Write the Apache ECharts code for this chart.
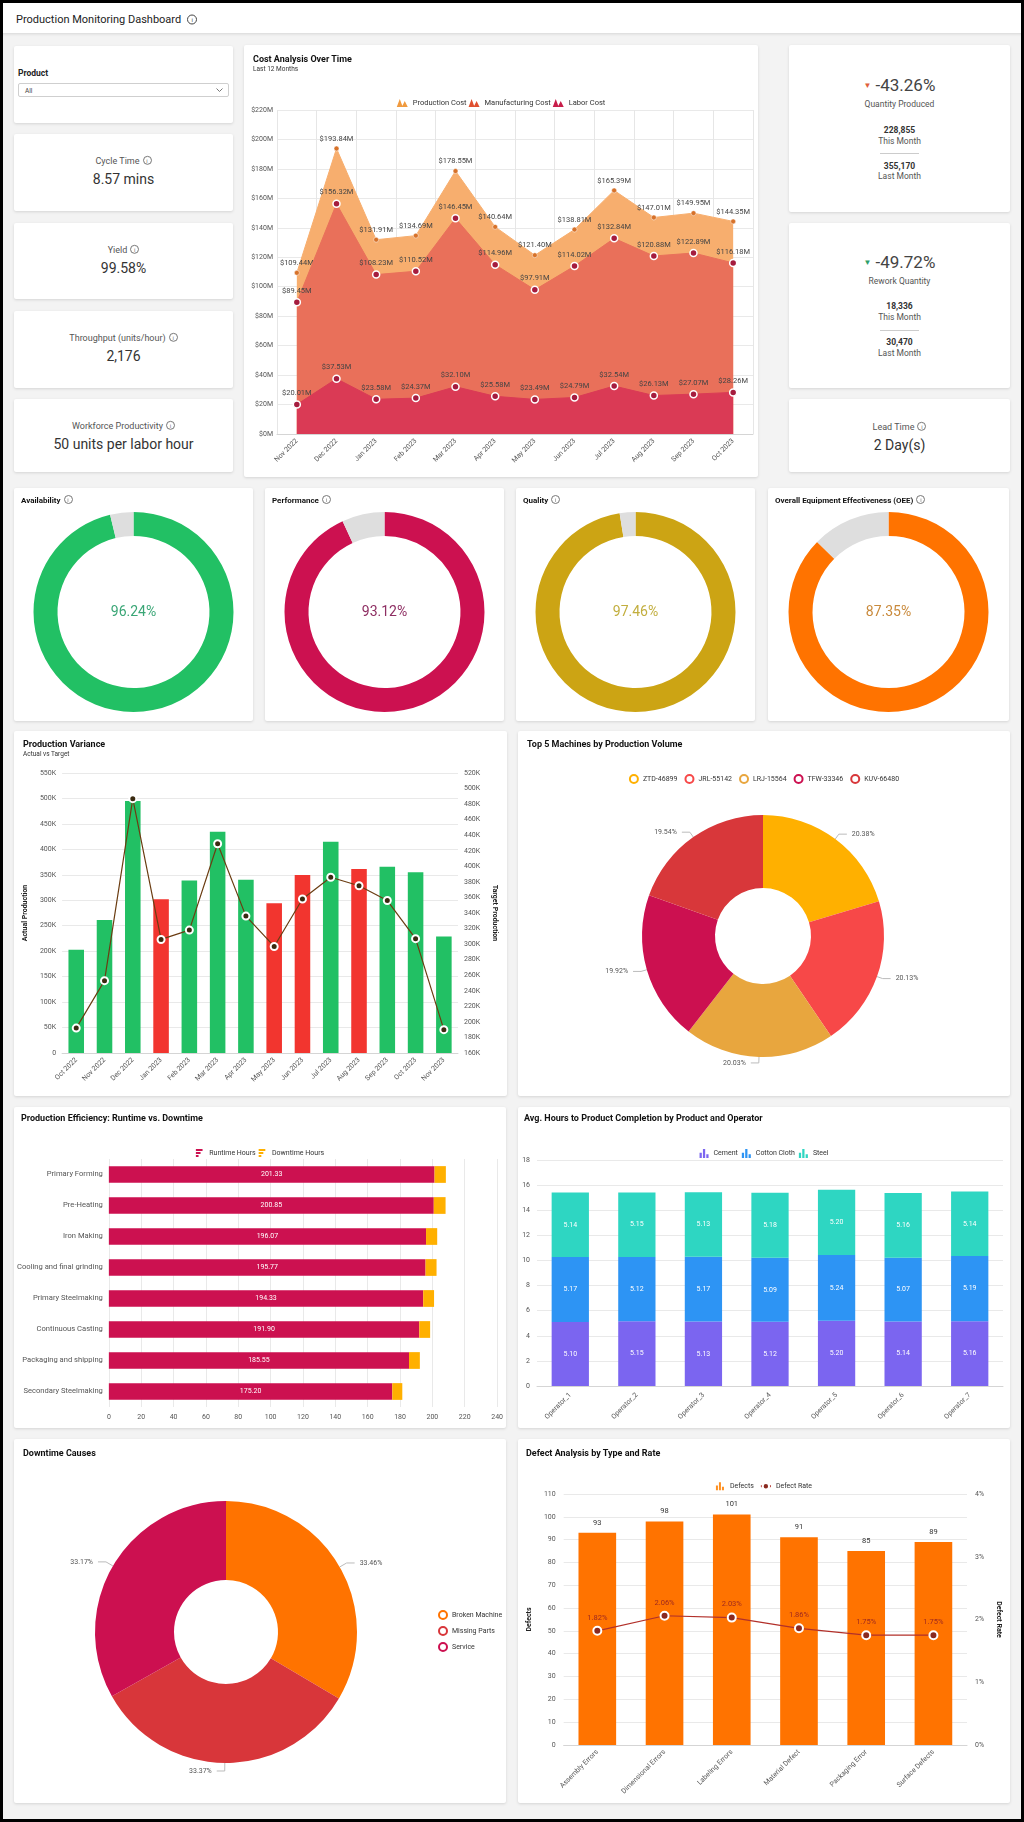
<!DOCTYPE html>
<html><head><meta charset="utf-8">
<script src="https://cdn.jsdelivr.net/npm/echarts/dist/echarts.min.js"></script>
<style>
html,body{margin:0;padding:0;}
body{width:1024px;height:1822px;position:relative;overflow:hidden;background:#f3f3f3;font-family:Roboto,"Noto Sans",sans-serif;color:#333;}
#frame{position:absolute;left:0;top:0;width:1024px;height:1822px;box-sizing:border-box;border:3px solid #000;z-index:50;pointer-events:none;}
#header{position:absolute;left:0;top:0;width:1024px;height:33px;background:#fff;box-shadow:0 1px 3px rgba(0,0,0,0.12);}
.card{position:absolute;background:#fff;box-shadow:0 1px 3px rgba(0,0,0,0.13);border-radius:2px;}
.chart{position:absolute;left:0;top:0;width:100%;height:100%;}
.t{position:absolute;left:0;right:0;text-align:center;transform:translateY(-50%);white-space:nowrap;line-height:1.15;}
.ttl{position:absolute;font-weight:700;font-size:9px;color:#111;white-space:nowrap;transform:translateY(-50%);z-index:5;}
.sub{position:absolute;font-size:7px;color:#333;white-space:nowrap;transform:translateY(-50%);z-index:5;}
.i{display:inline-block;width:7px;height:7px;border:1px solid #777;border-radius:50%;font-size:6px;line-height:7px;text-align:center;color:#777;font-weight:400;vertical-align:1px;margin-left:3px;font-style:normal;}
.lab{font-size:9px;color:#555;}
.val{font-size:14px;color:#333;}
.big{font-size:17px;color:#444;}
.sm{font-size:8.5px;color:#555;}
.bold{font-size:8.5px;color:#333;font-weight:700;}
.sep{position:absolute;left:91px;width:39px;height:1px;background:#ccc;}
</style></head>
<body>
<div id="header"><div style="position:absolute;left:16px;top:19px;transform:translateY(-50%);font-size:11px;color:#222;white-space:nowrap;">Production Monitoring Dashboard<span class="i" style="width:8px;height:8px;line-height:8px;margin-left:6px;border-color:#444;color:#444;">i</span></div></div>

<!-- left KPI cards -->
<div class="card" style="left:14px;top:46px;width:219px;height:77px;">
  <div style="position:absolute;left:4px;top:27px;transform:translateY(-50%);font-size:8.5px;font-weight:700;color:#222;">Product</div>
  <div style="position:absolute;left:4px;top:37px;width:211px;height:14px;box-sizing:border-box;border:1px solid #cfcfcf;border-radius:2px;">
    <div style="position:absolute;left:6px;top:7px;transform:translateY(-50%);font-size:6.5px;color:#444;">All</div>
    <svg style="position:absolute;right:5px;top:4px;" width="7" height="5"><polyline points="0.5,0.5 3.5,3.5 6.5,0.5" fill="none" stroke="#777" stroke-width="1"/></svg>
  </div>
</div>
<div class="card" style="left:14px;top:134px;width:219px;height:77px;">
  <div class="t lab" style="top:27px;">Cycle Time<span class="i">i</span></div>
  <div class="t val" style="top:45px;">8.57 mins</div>
</div>
<div class="card" style="left:14px;top:223px;width:219px;height:76px;">
  <div class="t lab" style="top:27px;">Yield<span class="i">i</span></div>
  <div class="t val" style="top:45px;">99.58%</div>
</div>
<div class="card" style="left:14px;top:311px;width:219px;height:77px;">
  <div class="t lab" style="top:27px;">Throughput (units/hour)<span class="i">i</span></div>
  <div class="t val" style="top:45px;">2,176</div>
</div>
<div class="card" style="left:14px;top:399px;width:219px;height:73px;">
  <div class="t lab" style="top:27px;">Workforce Productivity<span class="i">i</span></div>
  <div class="t val" style="top:45px;">50 units per labor hour</div>
</div>

<!-- cost chart -->
<div class="card" style="left:244px;top:45px;width:514px;height:432px;">
  <div id="costChart" class="chart"></div>
  <div class="ttl" style="left:9px;top:14px;">Cost Analysis Over Time</div>
  <div class="sub" style="left:9px;top:24px;font-size:6.5px;">Last 12 Months</div>
</div>

<!-- right KPI cards -->
<div class="card" style="left:789px;top:45px;width:221px;height:167px;">
  <div class="t big" style="top:41px;"><span style="color:#E0603A;font-size:8px;vertical-align:3px;margin-right:4px;">&#9660;</span>-43.26%</div>
  <div class="t sm" style="top:60px;">Quantity Produced</div>
  <div class="t bold" style="top:86px;">228,855</div>
  <div class="t sm" style="top:97px;">This Month</div>
  <div class="sep" style="top:108px;"></div>
  <div class="t bold" style="top:122px;">355,170</div>
  <div class="t sm" style="top:132px;">Last Month</div>
</div>
<div class="card" style="left:789px;top:223px;width:221px;height:165px;">
  <div class="t big" style="top:40px;"><span style="color:#2E9E68;font-size:8px;vertical-align:3px;margin-right:4px;">&#9660;</span>-49.72%</div>
  <div class="t sm" style="top:59px;">Rework Quantity</div>
  <div class="t bold" style="top:84px;">18,336</div>
  <div class="t sm" style="top:95px;">This Month</div>
  <div class="sep" style="top:107px;"></div>
  <div class="t bold" style="top:120px;">30,470</div>
  <div class="t sm" style="top:131px;">Last Month</div>
</div>
<div class="card" style="left:789px;top:399px;width:221px;height:73px;">
  <div class="t lab" style="top:28px;">Lead Time<span class="i">i</span></div>
  <div class="t val" style="top:46px;">2 Day(s)</div>
</div>

<!-- gauges -->
<div class="card" style="left:14px;top:488px;width:239px;height:233px;"><div id="g0" class="chart"></div><div class="ttl" style="left:7px;top:12px;font-size:8px;">Availability<span class="i">i</span></div></div>
<div class="card" style="left:265px;top:488px;width:239px;height:233px;"><div id="g1" class="chart"></div><div class="ttl" style="left:7px;top:12px;font-size:8px;">Performance<span class="i">i</span></div></div>
<div class="card" style="left:516px;top:488px;width:239px;height:233px;"><div id="g2" class="chart"></div><div class="ttl" style="left:7px;top:12px;font-size:8px;">Quality<span class="i">i</span></div></div>
<div class="card" style="left:768px;top:488px;width:241px;height:233px;"><div id="g3" class="chart"></div><div class="ttl" style="left:7px;top:12px;font-size:8px;">Overall Equipment Effectiveness (OEE)<span class="i">i</span></div></div>

<!-- production variance -->
<div class="card" style="left:14px;top:731px;width:493px;height:365px;">
  <div id="varChart" class="chart"></div>
  <div class="ttl" style="left:9px;top:13px;">Production Variance</div>
  <div class="sub" style="left:9px;top:23px;font-size:6.5px;">Actual vs Target</div>
</div>
<!-- top 5 -->
<div class="card" style="left:518px;top:731px;width:492px;height:365px;">
  <div id="topChart" class="chart"></div>
  <div class="ttl" style="left:9px;top:13px;">Top 5 Machines by Production Volume</div>
</div>
<!-- efficiency -->
<div class="card" style="left:14px;top:1107px;width:492px;height:321px;">
  <div id="effChart" class="chart"></div>
  <div class="ttl" style="left:7px;top:11px;">Production Efficiency: Runtime vs. Downtime</div>
</div>
<!-- avg hours -->
<div class="card" style="left:518px;top:1107px;width:492px;height:321px;">
  <div id="avgChart" class="chart"></div>
  <div class="ttl" style="left:6px;top:11px;">Avg. Hours to Product Completion by Product and Operator</div>
</div>
<!-- downtime -->
<div class="card" style="left:14px;top:1439px;width:492px;height:364px;">
  <div id="downChart" class="chart"></div>
  <div class="ttl" style="left:9px;top:14px;">Downtime Causes</div>
</div>
<!-- defect -->
<div class="card" style="left:518px;top:1439px;width:492px;height:364px;">
  <div id="defChart" class="chart"></div>
  <div class="ttl" style="left:8px;top:14px;">Defect Analysis by Type and Rate</div>
</div>

<div id="frame"></div>

<script>
// ---------- DATA ----------
const costMonths = ['Nov 2022','Dec 2022','Jan 2023','Feb 2023','Mar 2023','Apr 2023','May 2023','Jun 2023','Jul 2023','Aug 2023','Sep 2023','Oct 2023'];
const productionCost = [109.44,193.84,131.91,134.69,178.55,140.64,121.40,138.81,165.39,147.01,149.95,144.35];
const manufacturingCost = [89.45,156.32,108.23,110.52,146.45,114.96,97.91,114.02,132.84,120.88,122.89,116.18];
const laborCost = [20.01,37.53,23.58,24.37,32.10,25.58,23.49,24.79,32.54,26.13,27.07,28.26];

const gaugeNames = ['Availability','Performance','Quality','OEE'];
const gaugeValues = [96.24,93.12,97.46,87.35];

const varMonths = ['Oct 2022','Nov 2022','Dec 2022','Jan 2023','Feb 2023','Mar 2023','Apr 2023','May 2023','Jun 2023','Jul 2023','Aug 2023','Sep 2023','Oct 2023','Nov 2023'];
const actualProduction = [202600,261400,494800,302000,339000,434600,340500,294000,349700,415000,361400,366000,355170,228855];
const targetProduction = [192000,253000,487000,306000,318000,429000,336000,297000,358000,386000,375000,356000,307000,190000];

const machines = ['ZTD-46899','JRL-55142','LRJ-15564','TFW-33346','KUV-66480'];
const machineShare = [20.38,20.13,20.03,19.92,19.54];

const stages = ['Primary Forming','Pre-Heating','Iron Making','Cooling and final grinding','Primary Steelmaking','Continuous Casting','Packaging and shipping','Secondary Steelmaking'];
const runtimeHours = [201.33,200.85,196.07,195.77,194.33,191.90,185.55,175.20];
const downtimeHours = [7.0,7.3,6.9,6.8,6.7,6.7,6.7,6.2];

const operators = ['Operator_1','Operator_2','Operator_3','Operator_4','Operator_5','Operator_6','Operator_7'];
const cementHours = [5.10,5.15,5.13,5.12,5.20,5.14,5.16];
const cottonHours = [5.17,5.12,5.17,5.09,5.24,5.07,5.19];
const steelHours = [5.14,5.15,5.13,5.18,5.20,5.16,5.14];

const downCauses = ['Broken Machine','Missing Parts','Service'];
const downShare = [33.46,33.37,33.17];

const defectTypes = ['Assembly Errors','Dimensional Errors','Labeling Errors','Material Defect','Packaging Error','Surface Defects'];
const defectCounts = [93,98,101,91,85,89];
const defectRates = [1.82,2.06,2.03,1.86,1.75,1.75];

// ---------- HELPERS ----------
const FONT = 'Roboto, "Noto Sans", sans-serif';
function mk(id, opt){
  const c = echarts.init(document.getElementById(id), null, {renderer:'canvas'});
  opt.animation = false;
  opt.textStyle = {fontFamily: FONT};
  c.setOption(opt);
  return c;
}
const gridLine = {lineStyle:{color:'#e9e9e9', width:1}};
const axLbl = {fontSize:7, color:'#555', fontFamily: FONT};
const mountain = 'path://M0,8 L3,0 L6,8 Z M5,8 L8,2 L11,8 Z';
const hbarIcon = 'path://M0,0H10V3H0Z M0,4.5H7V7.5H0Z M0,9H4V12H0Z';
const vbarIcon = 'path://M0,12V5H3V12Z M4.5,12V0H7.5V12Z M9,12V7H12V12Z';

// ---------- COST CHART ----------
const costColors = {prod:'#F7AE6E', manu:'#E9705A', labor:'#DA3A55'};
function costSeries(name, data, color, symColor, size, z){
  return {name, type:'line', data, z, symbol:'circle', symbolSize:size, showAllSymbol:true,
    lineStyle:{color, width:1}, itemStyle:{color:symColor, borderColor:'#fff', borderWidth: size>5?1.5:0.5},
    areaStyle:{color, opacity:1},
    label:{show:true, position:'top', distance:3, fontSize:7.5, color:'#444', formatter:p=>'$'+p.value.toFixed(2)+'M'}};
}
mk('costChart', {
  legend:{top:49, left:'center', itemWidth:11, itemHeight:8, itemGap:2, textStyle:{fontSize:7.5, color:'#333'},
    data:[{name:'Production Cost', icon:mountain, itemStyle:{color:'#F09A3E', borderWidth:0}, lineStyle:{opacity:0}},
          {name:'Manufacturing Cost', icon:mountain, itemStyle:{color:'#E0502F', borderWidth:0}, lineStyle:{opacity:0}},
          {name:'Labor Cost', icon:mountain, itemStyle:{color:'#C81E4A', borderWidth:0}, lineStyle:{opacity:0}}]},
  grid:{left:33, right:5, top:65, bottom:43},
  xAxis:{type:'category', data:costMonths, boundaryGap:true,
    axisLine:{lineStyle:{color:'#d5d5d5'}}, axisTick:{show:false},
    axisLabel:Object.assign({rotate:45, margin:6, interval:0}, axLbl),
    splitLine:{show:true, lineStyle:{color:'#e6e6e6'}}},
  yAxis:{type:'value', min:0, max:220, interval:20, axisLine:{show:false}, axisTick:{show:false},
    axisLabel:Object.assign({margin:4, formatter:v=>'$'+v+'M'}, axLbl), splitLine:gridLine},
  series:[
    costSeries('Production Cost', productionCost, costColors.prod, '#D7722A', 5, 2),
    costSeries('Manufacturing Cost', manufacturingCost, costColors.manu, '#A51C3E', 7, 3),
    costSeries('Labor Cost', laborCost, costColors.labor, '#A51C3E', 7, 4)
  ]
});

// ---------- GAUGES ----------
const gaugeColors = ['#22C064','#CC1150','#CCA414','#FF7300'];
const gaugeTextColors = ['#3AA676','#8E2E62','#C2AE3E','#C98A3C'];
gaugeValues.forEach((v,i)=>{
  mk('g'+i, {
    graphic:[{type:'text', left:'center', top:117, style:{text:v.toFixed(2)+'%', fontSize:14, fill:gaugeTextColors[i], fontFamily:FONT}}],
    series:[{type:'pie', center:['50%',124], radius:[76,100], startAngle:90, clockwise:true, silent:true,
      label:{show:false}, labelLine:{show:false}, itemStyle:{borderWidth:0},
      data:[{name:gaugeNames[i], value:v, itemStyle:{color:gaugeColors[i]}},
            {name:'rest', value:+(100-v).toFixed(2), itemStyle:{color:'#DEDEDE'}}]}]
  });
});

// ---------- PRODUCTION VARIANCE ----------
mk('varChart', {
  grid:{left:48, right:49, top:42, bottom:43},
  xAxis:{type:'category', data:varMonths, axisLine:{lineStyle:{color:'#d5d5d5'}}, axisTick:{show:false},
    axisLabel:Object.assign({rotate:45, margin:6, interval:0}, axLbl)},
  yAxis:[
    {type:'value', min:0, max:550000, interval:50000, name:'Actual Production', nameLocation:'middle', nameGap:32, nameRotate:90,
      nameTextStyle:{fontSize:7, fontWeight:'bold', color:'#222'},
      axisLine:{show:false}, axisTick:{show:false}, splitLine:gridLine,
      axisLabel:Object.assign({margin:6, formatter:v=>v===0?'0':(v/1000)+'K'}, axLbl)},
    {type:'value', min:160000, max:520000, interval:20000, name:'Target Production', nameLocation:'middle', nameGap:32, nameRotate:-90,
      nameTextStyle:{fontSize:7, fontWeight:'bold', color:'#222'},
      axisLine:{show:false}, axisTick:{show:false}, splitLine:{show:false},
      axisLabel:Object.assign({margin:6, formatter:v=>(v/1000)+'K'}, axLbl)}
  ],
  series:[
    {type:'bar', name:'Actual', barWidth:'55%', yAxisIndex:0,
      data:actualProduction.map((v,i)=>({value:v, itemStyle:{color: v>=targetProduction[i]?'#22C064':'#F2352F'}}))},
    {type:'line', name:'Target', yAxisIndex:1, data:targetProduction, symbol:'circle', symbolSize:7,
      lineStyle:{color:'#6B3D12', width:1.2}, itemStyle:{color:'#3a2a10', borderColor:'#fff', borderWidth:2}}
  ]
});

// ---------- TOP 5 MACHINES ----------
const machineColors = ['#FFB000','#F74848','#E8A63E','#CC1050','#D8373A'];
mk('topChart', {
  legend:{top:38, left:'center', itemWidth:8, itemHeight:8, itemGap:7, textStyle:{fontSize:7, color:'#333'},
    data:machines.map((m,i)=>({name:m, icon:'circle', itemStyle:{color:'#fff', borderColor:machineColors[i], borderWidth:2}}))},
  series:[{type:'pie', center:[245,205], radius:[48,121], startAngle:90, clockwise:true,
    itemStyle:{borderWidth:0},
    label:{show:true, fontSize:7, color:'#555', formatter:p=>p.value.toFixed(2)+'%'},
    labelLine:{length:6, length2:8, lineStyle:{color:'#bbb'}},
    data:machines.map((m,i)=>({name:m, value:machineShare[i], itemStyle:{color:machineColors[i]}}))}]
});

// ---------- EFFICIENCY ----------
mk('effChart', {
  legend:{top:37, left:'center', itemWidth:10, itemHeight:8, itemGap:3, textStyle:{fontSize:7, color:'#333'},
    data:[{name:'Runtime Hours', icon:hbarIcon}, {name:'Downtime Hours', icon:hbarIcon}]},
  grid:{left:83, right:6, top:52, bottom:21},
  xAxis:{type:'value', min:0, max:240, interval:20, axisLine:{show:false}, axisTick:{show:false},
    axisLabel:Object.assign({margin:7}, axLbl), splitLine:gridLine},
  yAxis:{type:'category', data:stages, inverse:true, axisLine:{show:false}, axisTick:{show:false},
    axisLabel:Object.assign({}, axLbl, {margin:6, interval:0, fontSize:7.6})},
  series:[
    {type:'bar', name:'Runtime Hours', stack:'t', data:runtimeHours, barWidth:'54%', itemStyle:{color:'#CC1150'},
      label:{show:true, position:'inside', fontSize:7, color:'#fff', formatter:p=>p.value.toFixed(2)}},
    {type:'bar', name:'Downtime Hours', stack:'t', data:downtimeHours, barWidth:'54%', itemStyle:{color:'#FFB000'}}
  ]
});

// ---------- AVG HOURS ----------
const prodColors = ['#7B65F0','#2D94F4','#2ED6C2'];
function avgSeries(name, data, color){
  return {type:'bar', name, stack:'a', data, barWidth:'56%', itemStyle:{color},
    label:{show:true, position:'inside', fontSize:7, color:'#fff', formatter:p=>p.value.toFixed(2)}};
}
mk('avgChart', {
  legend:{top:37, left:'center', itemWidth:9, itemHeight:9, itemGap:4, textStyle:{fontSize:7, color:'#333'},
    data:[{name:'Cement', icon:vbarIcon},{name:'Cotton Cloth', icon:vbarIcon},{name:'Steel', icon:vbarIcon}]},
  grid:{left:19, right:7, top:53, bottom:42},
  xAxis:{type:'category', data:operators, axisLine:{lineStyle:{color:'#d5d5d5'}}, axisTick:{show:false},
    axisLabel:Object.assign({rotate:45, margin:8, interval:0}, axLbl)},
  yAxis:{type:'value', min:0, max:18, interval:2, axisLine:{show:false}, axisTick:{show:false},
    axisLabel:Object.assign({margin:7}, axLbl), splitLine:gridLine},
  series:[avgSeries('Cement', cementHours, prodColors[0]), avgSeries('Cotton Cloth', cottonHours, prodColors[1]), avgSeries('Steel', steelHours, prodColors[2])]
});

// ---------- DOWNTIME CAUSES ----------
const downColors = ['#FF7300','#D8363A','#CC1050'];
mk('downChart', {
  legend:{orient:'vertical', left:419, top:166, itemWidth:8, itemHeight:8, itemGap:6, textStyle:{fontSize:7, color:'#333'},
    data:downCauses.map((m,i)=>({name:m, icon:'circle', itemStyle:{color:'#fff', borderColor:downColors[i], borderWidth:2}}))},
  series:[{type:'pie', center:[212,193], radius:[52,131], startAngle:90, clockwise:true,
    itemStyle:{borderWidth:0},
    label:{show:true, fontSize:7, color:'#555', formatter:p=>p.value.toFixed(2)+'%'},
    labelLine:{length:8, length2:8, lineStyle:{color:'#bbb'}},
    data:downCauses.map((m,i)=>({name:m, value:downShare[i], itemStyle:{color:downColors[i]}}))}]
});

// ---------- DEFECT ANALYSIS ----------
mk('defChart', {
  legend:{top:38, left:'center', itemWidth:10, itemHeight:8, itemGap:6, textStyle:{fontSize:7, color:'#333'},
    data:[{name:'Defects', icon:vbarIcon, itemStyle:{color:'#FF9020'}}, {name:'Defect Rate'}]},
  grid:{left:42, right:42, top:55, bottom:58},
  xAxis:{type:'category', data:defectTypes, axisLine:{lineStyle:{color:'#d5d5d5'}}, axisTick:{show:false},
    axisLabel:Object.assign({rotate:45, margin:6, interval:0}, axLbl)},
  yAxis:[
    {type:'value', min:0, max:110, interval:10, name:'Defects', nameLocation:'middle', nameGap:26, nameRotate:90,
      nameTextStyle:{fontSize:7, fontWeight:'bold', color:'#222'},
      axisLine:{show:false}, axisTick:{show:false}, splitLine:gridLine, axisLabel:Object.assign({margin:8}, axLbl)},
    {type:'value', min:0, max:4, interval:1, name:'Defect Rate', nameLocation:'middle', nameGap:22, nameRotate:-90,
      nameTextStyle:{fontSize:7, fontWeight:'bold', color:'#222'},
      axisLine:{show:false}, axisTick:{show:false}, splitLine:{show:false}, axisLabel:Object.assign({margin:8, formatter:v=>v+'%'}, axLbl)}
  ],
  series:[
    {type:'bar', name:'Defects', data:defectCounts, barWidth:'56%', itemStyle:{color:'#FF7300'},
      label:{show:true, position:'top', fontSize:7.5, color:'#333', distance:6}},
    {type:'line', name:'Defect Rate', yAxisIndex:1, data:defectRates, symbol:'circle', symbolSize:8,
      lineStyle:{color:'#B2302A', width:1.2}, itemStyle:{color:'#8A2A20', borderColor:'#fff', borderWidth:2},
      label:{show:true, position:'top', fontSize:7.5, color:'#A02A1E', distance:4, formatter:p=>p.value.toFixed(2)+'%'}}
  ]
});
</script>
</body></html>
